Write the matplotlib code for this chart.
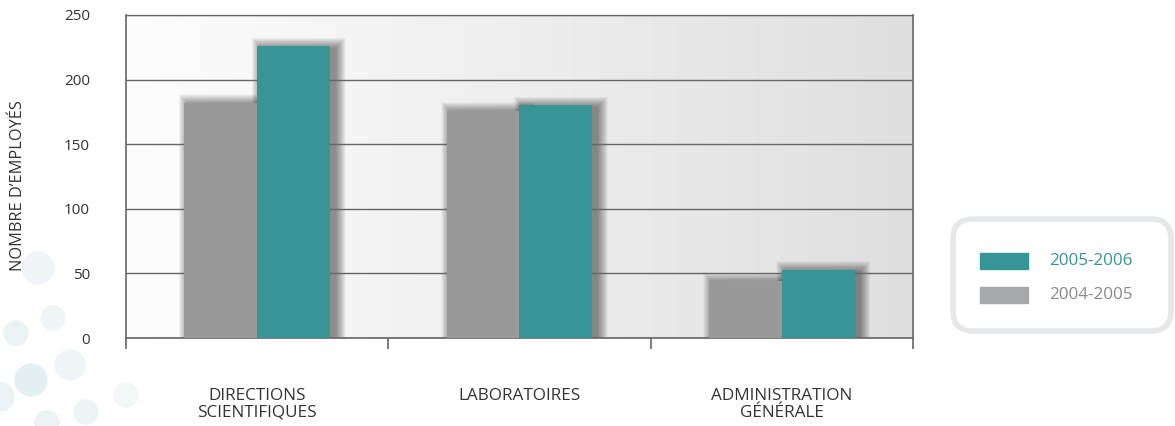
import numpy as np
import matplotlib
matplotlib.use("Agg")
import matplotlib.pyplot as plt
from matplotlib.patches import Circle, FancyBboxPatch, Rectangle

categories = ["DIRECTIONS\nSCIENTIFIQUES", "LABORATOIRES", "ADMINISTRATION\nGÉNÉRALE"]
values_2004 = [182, 176, 44]
values_2005 = [226, 180, 53]
series_labels = ["2005-2006", "2004-2005"]
y_ticks = [0, 50, 100, 150, 200, 250]

TEAL = "#379596"
GREY = "#999999"
TEXT = "#333333"

plt.rcParams["font.family"] = ["Open Sans", "DejaVu Sans"]

W, H = 1175, 426
fig = plt.figure(figsize=(W / 100, H / 100), dpi=100)
px = fig.dpi_scale_trans  # work in pixels / 100


def pt(xp, yp):
    return xp / 100, (H - yp) / 100


# faint decorative dots in the lower-left corner
for cx, cy, r, c in [(38, 268, 16, "#f0f6f7"), (53, 318, 12, "#eef5f6"),
                     (16, 333, 12, "#e9f2f4"), (70, 365, 15, "#eef5f6"),
                     (31, 380, 16, "#e4eff1"), (0, 397, 14, "#e9f2f4"),
                     (86, 412, 12, "#ebf3f5"), (126, 395, 12, "#f2f7f8"),
                     (47, 423, 12, "#ebf3f5")]:
    fig.patches.append(Circle(pt(cx, cy), r / 100, transform=px, color=c, zorder=0))

ax = fig.add_axes([126 / W, 1 - 338 / H, (913 - 126) / W, (338 - 15) / H])
ax.set_facecolor("none")

x = np.arange(len(categories))
width = 0.278

ax.set_xlim(-0.5, len(categories) - 0.5)
ax.set_ylim(0, 250)

# background gradient, white to light grey
grad = np.linspace(0, 1, 256)[None, :]
ax.imshow(grad, extent=[-0.5, len(categories) - 0.5, 0, 250], aspect="auto",
          cmap=matplotlib.colors.LinearSegmentedColormap.from_list("bg", ["#fdfdfd", "#dfdfdf"]),
          zorder=0)

# soft drop shadows (1 px ~ 0.00381 in x, 0.774 in y)
dxp, dyp = 0.00381, 0.774
for i in np.arange(0.5, 11, 0.5):
    for xs, vals in [(x - width / 2, values_2004), (x + width / 2, values_2005)]:
        ax.bar(xs + 5 * dxp, np.array(vals) + (i - 2) * dyp, width + 2 * i * dxp,
               color="black", alpha=0.022, zorder=1, linewidth=0)

ax.bar(x - width / 2, values_2004, width, color=GREY, zorder=3, linewidth=0)
ax.bar(x + width / 2, values_2005, width, color=TEAL, zorder=3, linewidth=0)

ax.set_yticks(y_ticks)
ax.yaxis.grid(True, color="#666666", linewidth=1.0)
for gl in ax.get_ygridlines():
    gl.set_zorder(2)
ax.tick_params(axis="y", length=0, pad=26, labelsize=11, labelcolor=TEXT)

ax.set_xticks(x)
ax.set_xticklabels(categories, linespacing=1.05)
ax.tick_params(axis="x", which="major", length=0, pad=36, labelsize=12.3, labelcolor=TEXT)
ax.set_xticks(np.arange(len(categories) + 1) - 0.5, minor=True)
ax.tick_params(axis="x", which="minor", length=8, width=1.2, color="#666666", direction="out")

for side in ["left", "right", "top", "bottom"]:
    ax.spines[side].set_color("#666666")
    ax.spines[side].set_linewidth(1.2)
ax.spines["top"].set_linewidth(0.9)

fig.text(18 / W, 1 - 186 / H, "NOMBRE D’EMPLOYÉS", rotation=90, ha="center", va="center",
         fontsize=11.8, color=TEXT)

# legend box
x0, y0 = pt(953, 331)
fig.patches.append(FancyBboxPatch((x0, y0), 2.18, 1.12,
                                  boxstyle="round,pad=0,rounding_size=0.2",
                                  transform=px, facecolor="white",
                                  edgecolor="#e6e7e8", linewidth=4, zorder=1))
legend_colors = [TEAL, "#a7a8aa"]
legend_text = [TEAL, "#8a8a8c"]
for i, (lab, c, tc) in enumerate(zip(series_labels, legend_colors, legend_text)):
    yc = 261 + 34 * i
    fig.patches.append(Rectangle(pt(980, yc + 8), 0.48, 0.16,
                                 transform=px, color=c, zorder=2))
    fig.text(1049 / W, 1 - yc / H, lab, ha="left", va="center", fontsize=12.3, color=tc)

fig.savefig("out.png", dpi=100)
